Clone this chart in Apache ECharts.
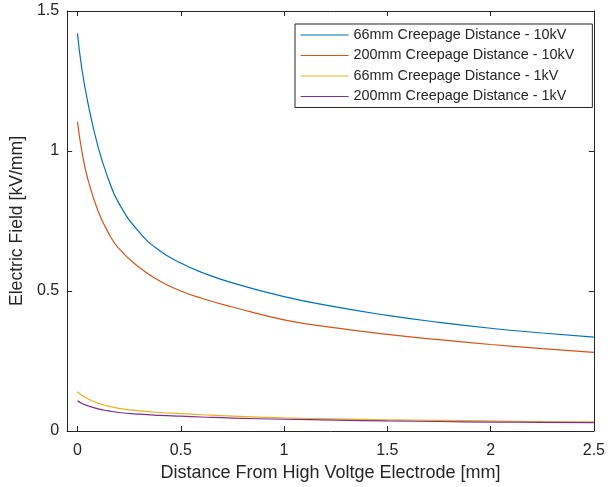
<!DOCTYPE html>
<html>
<head>
<meta charset="utf-8">
<title>Electric field along the insulator surface</title>
<script src="https://cdn.jsdelivr.net/npm/echarts@6/dist/echarts.min.js"></script>
<style>
  html, body { margin: 0; padding: 0; background: #fff; }
  #chart { width: 608px; height: 487px; }
</style>
</head>
<body>
<div id="chart"></div>
<script>
// Distance from the high-voltage electrode, mm
const distance = [0, 0.02, 0.05, 0.1, 0.15, 0.2, 0.3, 0.4, 0.5, 0.6, 0.75, 1.0, 1.25, 1.5, 1.75, 2.0, 2.25, 2.5];

// Electric field, kV/mm
const field66mm10kV  = [1.42, 1.30, 1.174, 1.014, 0.899, 0.814, 0.709, 0.643, 0.6, 0.567, 0.529, 0.48, 0.443, 0.413, 0.388, 0.367, 0.35, 0.335];
const field200mm10kV = [1.105, 1.005, 0.9, 0.785, 0.708, 0.652, 0.584, 0.535, 0.5, 0.474, 0.443, 0.397, 0.368, 0.345, 0.326, 0.309, 0.294, 0.281];
const field66mm1kV   = [0.14, 0.128, 0.115, 0.099, 0.089, 0.081, 0.072, 0.066, 0.062, 0.058, 0.053, 0.047, 0.043, 0.04, 0.038, 0.036, 0.034, 0.033];
const field200mm1kV  = [0.108, 0.099, 0.09, 0.079, 0.072, 0.066, 0.06, 0.056, 0.053, 0.05, 0.046, 0.042, 0.039, 0.036, 0.034, 0.032, 0.031, 0.03];

const seriesNames = [
  '66mm Creepage Distance - 10kV',
  '200mm Creepage Distance - 10kV',
  '66mm Creepage Distance - 1kV',
  '200mm Creepage Distance - 1kV'
];
const seriesValues = [field66mm10kV, field200mm10kV, field66mm1kV, field200mm1kV];
const seriesColors = ['#0072BD', '#D95319', '#EDB120', '#7E2F8E'];

const xTicks = [0, 0.5, 1, 1.5, 2, 2.5];

const axisColor = '#262626';
const fontFamily = "'Liberation Sans', Arial, sans-serif";

const chart = echarts.init(document.getElementById('chart'), null, { renderer: 'canvas' });

// Plain value axis used for the four sides of the box, ticks pointing inward
const frameAxis = (extra) => Object.assign({
  type: 'value',
  axisLine: { show: true, onZero: false, lineStyle: { color: axisColor, width: 1 } },
  splitLine: { show: false },
  axisTick: { show: true, inside: true, length: 5, lineStyle: { color: axisColor } },
  axisLabel: { show: false }
}, extra);

chart.setOption({
  animation: false,
  backgroundColor: '#ffffff',
  textStyle: { fontFamily: fontFamily },
  grid: { left: 65, right: 11, top: 11, bottom: 56, containLabel: false },
  legend: {
    orient: 'vertical',
    left: 295,
    top: 24,
    data: seriesNames,
    backgroundColor: '#ffffff',
    borderColor: axisColor,
    borderWidth: 1,
    padding: [4, 18, 4, 5],
    itemWidth: 48,
    itemHeight: 14,
    itemGap: 6.5,
    itemStyle: { opacity: 0 },
    lineStyle: { width: 1.2 },
    textStyle: { fontSize: 14.4, color: axisColor, fontFamily: fontFamily }
  },
  xAxis: [
    frameAxis({
      position: 'bottom',
      min: -0.05,
      max: 2.5,
      name: 'Distance From High Voltge Electrode [mm]',
      nameLocation: 'middle',
      nameGap: 32,
      nameTextStyle: { fontSize: 18, color: axisColor, fontFamily: fontFamily },
      axisTick: { show: true, inside: true, length: 5, customValues: xTicks, lineStyle: { color: axisColor } },
      axisLabel: { show: true, customValues: xTicks, margin: 12, fontSize: 16, color: axisColor, fontFamily: fontFamily }
    }),
    frameAxis({
      position: 'top',
      min: -0.05,
      max: 2.5,
      axisTick: { show: true, inside: true, length: 5, customValues: xTicks, lineStyle: { color: axisColor } }
    })
  ],
  yAxis: [
    frameAxis({
      position: 'left',
      min: 0,
      max: 1.5,
      interval: 0.5,
      name: 'Electric Field [kV/mm]',
      nameLocation: 'middle',
      nameGap: 30,
      nameTextStyle: { fontSize: 17.6, color: axisColor, fontFamily: fontFamily },
      axisLabel: { show: true, margin: 8, fontSize: 16, color: axisColor, fontFamily: fontFamily }
    }),
    frameAxis({
      position: 'right',
      min: 0,
      max: 1.5,
      interval: 0.5
    })
  ],
  series: seriesValues.map((values, i) => ({
    name: seriesNames[i],
    type: 'line',
    xAxisIndex: 0,
    yAxisIndex: 0,
    data: distance.map((d, k) => [d, values[k]]),
    smooth: 0.5,
    symbol: 'none',
    color: seriesColors[i],
    lineStyle: { width: 1.2, color: seriesColors[i] },
    z: 2 + i
  }))
});
</script>
</body>
</html>
